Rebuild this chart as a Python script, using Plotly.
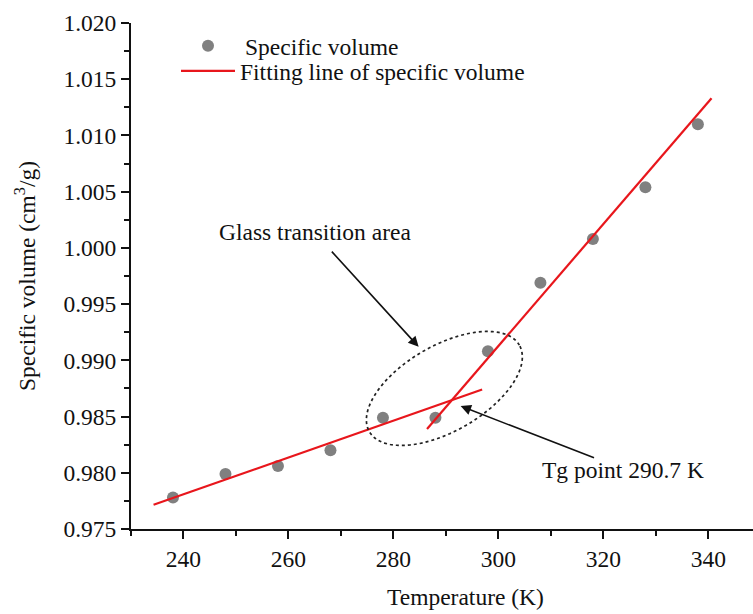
import numpy as np
import plotly.graph_objects as go

# Measured specific volume (cm3/g) against temperature (K)
temperature = [238, 248, 258, 268, 278, 288, 298, 308, 318, 328, 338]
specific_volume = [0.9778, 0.9799, 0.9806, 0.9820, 0.9849, 0.9849,
                   0.9908, 0.9969, 1.0008, 1.0054, 1.0110]

# End points of the two linear fits (glassy and rubbery regions)
glassy_fit_T = [234.3, 296.9]
glassy_fit_V = [0.97715, 0.9874]
rubbery_fit_T = [286.4, 340.6]
rubbery_fit_V = [0.9839, 1.0133]

x_range = [230, 348.5]
y_range = [0.975, 1.020]
x_ticks = [240, 260, 280, 300, 320, 340]
y_ticks = [0.975, 0.980, 0.985, 0.990, 0.995, 1.000, 1.005, 1.010, 1.015, 1.020]

W, H = 753, 614
M = dict(l=131, r=0, t=23, b=85)
plot_w = W - M["l"] - M["r"]
plot_h = H - M["t"] - M["b"]
kx = plot_w / (x_range[1] - x_range[0])   # px per K
ky = plot_h / (y_range[1] - y_range[0])   # px per cm3/g

FONT = "Liberation Serif"
FS = 23.5
RED = "#e8161c"
GREY = "#808080"
INK = "#111111"

fig = go.Figure()

fig.add_trace(go.Scatter(
    x=temperature, y=specific_volume, mode="markers",
    name="Specific volume",
    marker=dict(color=GREY, size=12, line=dict(width=0)),
    legend="legend",
))
fig.add_trace(go.Scatter(
    x=glassy_fit_T, y=glassy_fit_V, mode="lines",
    name="Fitting line of specific volume",
    line=dict(color=RED, width=2.2),
    legend="legend2",
))
fig.add_trace(go.Scatter(
    x=rubbery_fit_T, y=rubbery_fit_V, mode="lines",
    name="Fitting line of specific volume",
    line=dict(color=RED, width=2.2),
    showlegend=False,
))

# Dotted ellipse around the glass transition region (tilted in screen space)
ec_T, ec_V = 289.7, 0.9875
a_px, b_px, theta = 86.6, 42.8, np.deg2rad(30)
t = np.linspace(0, 2 * np.pi, 121)
dx = a_px * np.cos(t) * np.cos(theta) - b_px * np.sin(t) * np.sin(theta)
dy = a_px * np.cos(t) * np.sin(theta) + b_px * np.sin(t) * np.cos(theta)
ex = ec_T + dx / kx
ey = ec_V + dy / ky
path = "M" + " L".join(f"{x:.4f},{y:.6f}" for x, y in zip(ex, ey)) + " Z"
fig.add_shape(type="path", path=path, xref="x", yref="y",
              line=dict(color="#222222", width=1.7, dash="dot"))

txt_font = dict(size=FS, color=INK, family=FONT)
annotations = [
    # arrow to the glass transition area
    dict(x=284.8, y=0.9912, ax=268.0, ay=0.9998, axref="x", ayref="y",
         xref="x", yref="y", text="", showarrow=True,
         arrowhead=2, arrowsize=1.3, arrowwidth=1.6, arrowcolor=INK),
    dict(x=265.1, y=1.00142, xref="x", yref="y", text="Glass transition area",
         xanchor="center", yanchor="middle", showarrow=False, font=txt_font),
    # arrow to the Tg point
    dict(x=292.8, y=0.98593, ax=318.5, ay=0.98128, axref="x", ayref="y",
         xref="x", yref="y", text="", showarrow=True,
         arrowhead=2, arrowsize=1.3, arrowwidth=1.6, arrowcolor=INK),
    dict(x=323.7, y=0.98024, xref="x", yref="y", text="Tg point 290.7 K",
         xanchor="center", yanchor="middle", showarrow=False, font=txt_font),
    # axis titles
    dict(x=(25 - M["l"]) / plot_w, y=0.5, xref="paper", yref="paper",
         text="Specific volume (cm<sup>3</sup>/g)", textangle=-90,
         xanchor="center", yanchor="middle", showarrow=False, font=txt_font),
    dict(x=(466 - M["l"]) / plot_w, y=(M["t"] + plot_h - 597) / plot_h,
         xref="paper", yref="paper", text="Temperature (K)",
         xanchor="center", yanchor="middle", showarrow=False, font=txt_font),
]

axis_common = dict(
    showline=True, linecolor=INK, linewidth=2, mirror=False,
    ticks="outside", ticklen=8, tickwidth=2, tickcolor=INK,
    showgrid=False, zeroline=False,
    tickfont=dict(size=FS, color=INK, family=FONT),
)

fig.update_layout(
    width=W, height=H, margin=M,
    paper_bgcolor="white", plot_bgcolor="white",
    font=dict(family=FONT, size=FS, color=INK),
    xaxis=dict(range=x_range, tickvals=x_ticks,
               minor=dict(dtick=10, tick0=230, ticklen=5, tickwidth=2,
                          tickcolor=INK, ticks="outside"),
               **axis_common),
    yaxis=dict(range=y_range, tickvals=y_ticks, tickformat=".3f",
               minor=dict(dtick=0.0025, tick0=0.975, ticklen=5, tickwidth=2,
                          tickcolor=INK, ticks="outside"),
               **axis_common),
    legend=dict(x=(171 - M["l"]) / plot_w, y=(M["t"] + plot_h - 46) / plot_h,
                xanchor="left", yanchor="middle", bgcolor="rgba(0,0,0,0)",
                font=txt_font, itemwidth=64),
    legend2=dict(x=(176 - M["l"]) / plot_w, y=(M["t"] + plot_h - 71) / plot_h,
                 xanchor="left", yanchor="middle", bgcolor="rgba(0,0,0,0)",
                 font=txt_font, itemwidth=54),
    annotations=annotations,
    showlegend=True,
)

fig.write_html("out.html")
